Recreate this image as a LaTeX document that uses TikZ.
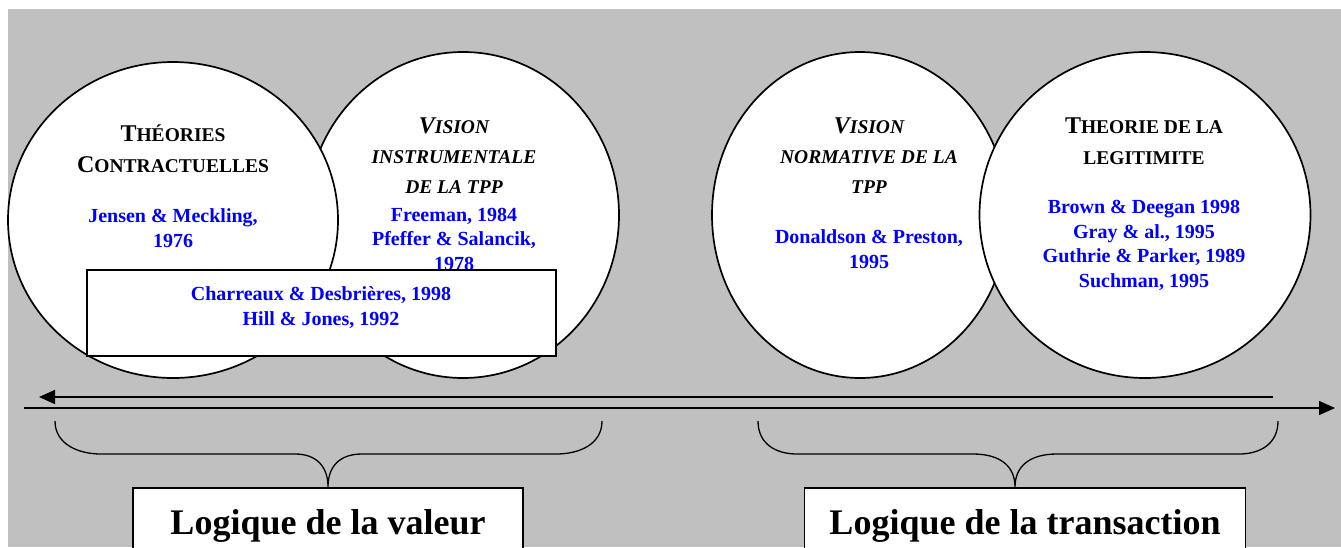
\documentclass[tikz,border=0pt]{standalone}
\usepackage{fontspec}
\setmainfont{Liberation Serif}
\usetikzlibrary{
    shapes.geometric,
    arrows.meta,
    positioning
}
\definecolor{panelGray}{RGB}{192,192,192}
\definecolor{refBlue}{RGB}{0,0,255}
\newcommand\capBig[1]{{\fontsize{24}{30.5}\selectfont #1}}
\tikzset{
    >={Triangle[length=16pt,width=14pt]},
    % Circles of theories
    theory/.style={
        ellipse,
        draw=black,
        fill=white,
        line width=1.7pt,
        inner sep=0pt
    },
    % multi-line texts sit on the baseline of their last line
    theoryName/.style={
        align=center,
        anchor=base,
        inner sep=0pt,
        font=\bfseries\fontsize{19.5}{30.5}\selectfont
    },
    theoryRefs/.style={
        theoryName,
        text=refBlue,
        font=\bfseries\fontsize{20}{24.5}\selectfont
    },
    % Shared references
    sharedBox/.style={
        draw=black,
        fill=white,
        line width=1.7pt,
        inner sep=0pt
    },
    % Logics below the axis
    logic/.style={
        sharedBox,
        minimum height=80pt
    },
    logicName/.style={
        anchor=base,
        inner sep=0pt,
        font=\bfseries\fontsize{36}{40}\selectfont
    },
    axis/.style={line width=1.5pt},
    brace/.style={line width=1.3pt}
}

\begin{document}
\begin{tikzpicture}[x=1pt,y=-1pt]

    \useasboundingbox (0,0) rectangle (1341,547);
    \clip (0,0) rectangle (1341,547);
    \fill[panelGray] (8,9) rectangle (1341,547);

    % Theories, value side
    \node[theory, minimum width=312pt, minimum height=326pt] (instrumental) at (463,215) {};
    \node[theory, minimum width=330pt, minimum height=316pt] (contractual) at (173,220) {};
    \node[theoryName] (contractualName) at (173,172) {\capBig{T}HÉORIES\\\capBig{C}ONTRACTUELLES};
    \node[theoryRefs] (contractualRefs) at (173,247) {Jensen \& Meckling,\\1976};
    \node[theoryName, font=\bfseries\itshape\fontsize{19.5}{30}\selectfont] (instrumentalName) at (454,193)
        {\capBig{V}ISION\\INSTRUMENTALE\\DE LA TPP};
    \node[theoryRefs] (instrumentalRefs) at (454,270) {Freeman, 1984\\Pfeffer \& Salancik,\\1978};

    % Theories, transaction side
    \node[theory, minimum width=296pt, minimum height=326pt] (normative) at (860,215) {};
    \node[theory, minimum width=331pt, minimum height=326pt] (legitimacy) at (1145,215) {};
    \node[theoryName, font=\bfseries\itshape\fontsize{19.5}{30}\selectfont] (normativeName) at (869,193)
        {\capBig{V}ISION\\NORMATIVE DE LA\\TPP};
    \node[theoryRefs] (normativeRefs) at (869,268) {Donaldson \& Preston,\\1995};
    \node[theoryName] (legitimacyName) at (1144,164) {\capBig{T}HEORIE DE LA\\LEGITIMITE};
    \node[theoryRefs] (legitimacyRefs) at (1144,287)
        {Brown \& Deegan 1998\\Gray \& al., 1995\\Guthrie \& Parker, 1989\\Suchman, 1995};

    % References shared by both circles
    \node[sharedBox, minimum width=469pt, minimum height=86pt] (shared) at (321.5,313) {};
    \node[theoryRefs] (sharedRefs) at (321,325) {Charreaux \& Desbrières, 1998\\Hill \& Jones, 1992};

    % Axis
    \coordinate (toValueStart) at (1273,397);
    \coordinate (toValueEnd) at (39,397);
    \coordinate (toTransStart) at (24,408);
    \coordinate (toTransEnd) at (1335,408);
    \draw[->,axis] (toValueStart) -- (toValueEnd);
    \draw[->,axis] (toTransStart) -- (toTransEnd);

    % Braces
    \coordinate (valueTip) at (328,487);
    \coordinate (transTip) at (1015,487);
    \draw[brace] (55,421) .. controls (55,444) and (78,454) .. (101,454) -- (295,454)
        .. controls (316,454) and (328,466) .. (valueTip)
        .. controls (328,466) and (340,454) .. (362,454) -- (556,454)
        .. controls (580,454) and (602,444) .. (602,421);
    \draw[brace] (758,421) .. controls (758,444) and (776,454) .. (797,454) -- (973,454)
        .. controls (1000,454) and (1015,466) .. (transTip)
        .. controls (1015,466) and (1030,454) .. (1057,454) -- (1239,454)
        .. controls (1260,454) and (1278,444) .. (1278,421);

    % Logics
    \node[logic, minimum width=390pt, below=0pt of valueTip] (valueBox) {};
    \node[logic, minimum width=441pt, below=0pt of transTip, xshift=10pt] (transBox) {};
    \node[logicName] (valueName) at (328,534) {Logique de la valeur};
    \node[logicName] (transName) at (1025,534) {Logique de la transaction};

\end{tikzpicture}
\end{document}
